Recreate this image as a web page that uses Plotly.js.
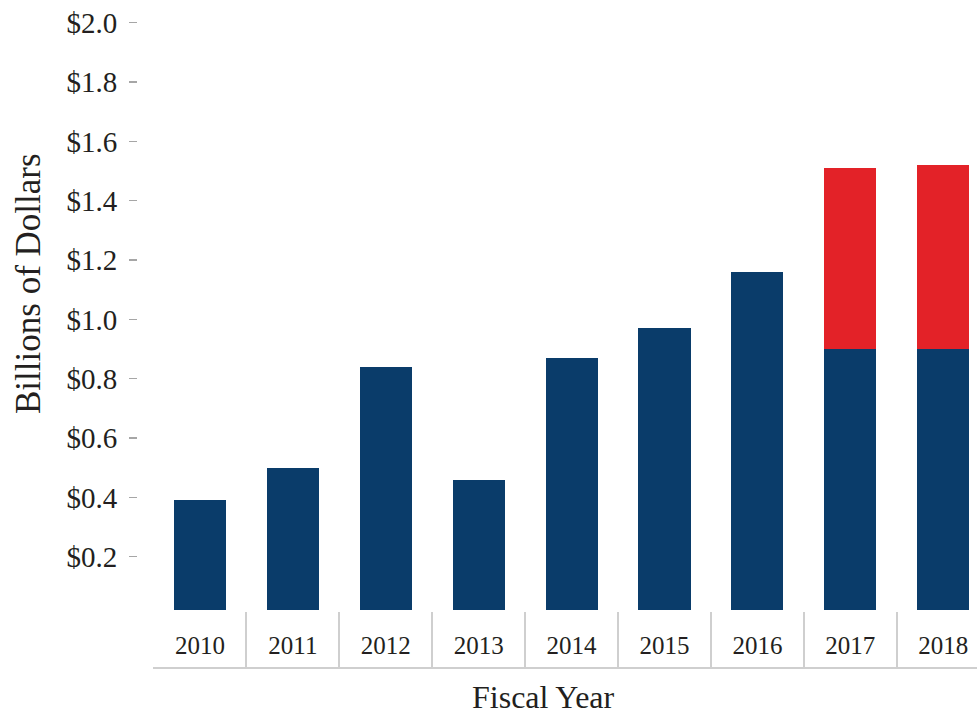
<!DOCTYPE html>
<html>
<head>
<meta charset="utf-8">
<script src="https://cdn.plot.ly/plotly-3.0.1.min.js"></script>
<style>html,body{margin:0;padding:0;background:#fff;}</style>
</head>
<body>
<div id="chart" style="width:977px;height:719px;"></div>
<script>
const years = ['2010','2011','2012','2013','2014','2015','2016','2017','2018'];
const baseValues = [0.39, 0.50, 0.84, 0.46, 0.87, 0.97, 1.16, 0.90, 0.90];
const addValues = [null, null, null, null, null, null, null, 0.61, 0.62];
const yTickVals = [0.2, 0.4, 0.6, 0.8, 1.0, 1.2, 1.4, 1.6, 1.8, 2.0];
const yTickText = ['$0.2','$0.4','$0.6','$0.8','$1.0','$1.2','$1.4','$1.6','$1.8','$2.0'];

const FONT = 'Liberation Serif, Times New Roman, serif';
const TXT = '#231f20';

const traces = [
  {type:'bar', x: years, y: baseValues, marker:{color:'#0a3c6a'}, width:0.56, hoverinfo:'x+y', showlegend:false},
  {type:'bar', x: years, y: addValues, marker:{color:'#e32228'}, width:0.56, hoverinfo:'x+y', showlegend:false}
];

const layout = {
  width: 977, height: 719,
  margin: {l:137, r:0, t:10, b:51, pad:0},
  paper_bgcolor:'#ffffff', plot_bgcolor:'#ffffff',
  barmode:'stack',
  showlegend:false,
  font:{family:FONT, color:TXT},
  xaxis:{
    type:'category',
    domain:[0.0196, 1],
    anchor:'free', position:0,
    range:[-0.5, 8.363],
    tickson:'boundaries',
    ticks:'inside', ticklen:55, tickwidth:2, tickcolor:'#cfcfcf',
    showline:true, linecolor:'#cfcfcf', linewidth:2,
    ticklabelposition:'inside',
    ticklabelstandoff:-45,
    tickfont:{size:25, color:TXT, family:FONT},
    showgrid:false, zeroline:false
  },
  yaxis:{
    domain:[0.0881, 1],
    anchor:'free', position:0,
    range:[0.0202, 2.0428],
    tickvals:yTickVals, ticktext:yTickText,
    ticks:'outside', ticklen:8, tickwidth:1.5, tickcolor:'#a6a6a6',
    ticklabelstandoff:6,
    tickfont:{size:29, color:TXT, family:FONT},
    showline:false, showgrid:false, zeroline:false
  },
  annotations:[
    {text:'Billions of Dollars', xref:'paper', yref:'paper', x:-0.1298, y:0.5851,
     xanchor:'center', yanchor:'middle', textangle:-90, showarrow:false,
     font:{size:35, color:TXT, family:FONT}},
    {text:'Fiscal Year', xref:'paper', yref:'paper', x:0.4845, y:-0.0441,
     xanchor:'center', yanchor:'middle', showarrow:false,
     font:{size:32, color:TXT, family:FONT}}
  ]
};

Plotly.newPlot('chart', traces, layout, {displayModeBar:false, staticPlot:true});
</script>
</body>
</html>
